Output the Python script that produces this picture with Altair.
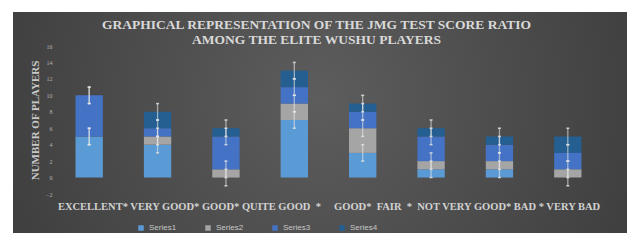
import altair as alt
import pandas as pd

# ---- data ----
categories = ["EXCELLENT", "VERY GOOD", "GOOD", "QUITE GOOD", "GOOD*",
              "FAIR", "NOT VERY GOOD", "BAD / VERY BAD"]
series_names = ["Series1", "Series2", "Series3", "Series4"]
series1 = [5, 4, 0, 7, 3, 1, 1, 0]
series2 = [0, 1, 1, 2, 3, 1, 1, 1]
series3 = [5, 1, 4, 2, 2, 3, 2, 2]
series4 = [0, 2, 1, 2, 1, 1, 1, 2]
error_amount = 1
NB = "\u00a0"
axis_label_parts = ["EXCELLENT*", "VERY GOOD*", "GOOD*", "QUITE GOOD" + NB * 2 + "*" + NB * 4,
                    "GOOD*" + NB, "FAIR" + NB + NB + "*" + NB, "NOT VERY GOOD*", "BAD *", "VERY BAD"]
y_ticks = [-2, 0, 2, 4, 6, 8, 10, 12, 14, 16]
title_lines = ["GRAPHICAL REPRESENTATION OF THE JMG TEST SCORE RATIO",
               "AMONG THE ELITE WUSHU PLAYERS"]
colors = ["#5B9BD5", "#A5A5A5", "#4472C4", "#255E91"]

rows = []
for si, (name, vals) in enumerate(zip(series_names, [series1, series2, series3, series4])):
    for cat, v in zip(categories, vals):
        rows.append({"cat": cat, "series": name, "order": si, "value": v})
df = pd.DataFrame(rows)

x_axis = alt.Axis(labels=False, ticks=False, domain=False, grid=False, zindex=1,
                  title=" ".join(axis_label_parts),
                  titleFont="Liberation Serif", titleFontWeight="bold",
                  titleFontSize=10.5, titleColor="#d2d2d2",
                  titleY=12, titleBaseline="middle")
y_axis = alt.Axis(values=y_ticks, ticks=False, domain=False, grid=False,
                  zindex=1, labelOverlap=False, labelFlush=False,
                  labelFont="Liberation Serif", labelFontSize=6,
                  labelColor="#b4b4b4", labelPadding=3,
                  title="NUMBER OF PLAYERS", titleFont="Liberation Serif",
                  titleFontWeight="bold", titleFontSize=11,
                  titleColor="#c8c8c8", titleX=-20, titleY=74,
                  titleBaseline="middle")
x_scale = alt.Scale(paddingInner=0.6, paddingOuter=0.3)
y_scale = alt.Scale(domain=[-2, 16], nice=False, zero=False)
x_enc = alt.X("cat:N", sort=categories, scale=x_scale, axis=x_axis)

bg = alt.Chart(pd.DataFrame({"a": [0]})).mark_rect(
    fill={"gradient": "radial",
          "stops": [{"offset": 0, "color": "#5d5d5d"},
                    {"offset": 1, "color": "#2e2e2e"}],
          "x1": 0.5, "y1": 0.45, "x2": 0.5, "y2": 0.45, "r1": 0, "r2": 0.85}
).encode(x=alt.value(-42), x2=alt.value(573), y=alt.value(-34), y2=alt.value(200))

bars = alt.Chart(df).mark_bar().encode(
    x=x_enc,
    y=alt.Y("value:Q", stack="zero", scale=y_scale, axis=y_axis),
    color=alt.Color("series:N", scale=alt.Scale(domain=series_names, range=colors),
                    title=None,
                    legend=alt.Legend(orient="none", legendX=82, legendY=178,
                                      direction="horizontal", symbolType="square",
                                      symbolSize=30, symbolStrokeWidth=0,
                                      labelFont="Liberation Sans", labelFontSize=8,
                                      labelColor="#c8c8c8", columnPadding=27,
                                      labelOffset=4, zindex=1)),
    order=alt.Order("order:Q"),
)

err_base = alt.Chart(df).transform_stack(
    stack="value", groupby=["cat"], as_=["s0", "s1"],
    sort=[alt.SortField("order", order="ascending")]
).transform_calculate(
    lo=f"datum.s1 - {error_amount}", hi=f"datum.s1 + {error_amount}"
)

rules = err_base.mark_rule(color="#e6e6e6", opacity=0.6, strokeWidth=1.3).encode(
    x=x_enc,
    y=alt.Y("lo:Q", scale=y_scale, axis=y_axis),
    y2="hi:Q",
)
caps_lo = err_base.mark_tick(color="#e6e6e6", opacity=0.8, size=3, thickness=1.5,
                             orient="horizontal").encode(
    x=x_enc, y=alt.Y("lo:Q", scale=y_scale, axis=y_axis))
caps_hi = err_base.mark_tick(color="#e6e6e6", opacity=0.8, size=3, thickness=1.5,
                             orient="horizontal").encode(
    x=x_enc, y=alt.Y("hi:Q", scale=y_scale, axis=y_axis))

chart = alt.layer(bg, bars, rules, caps_lo, caps_hi).properties(
    width=547, height=148,
    autosize=alt.AutoSizeParams(type="none"),
    padding={"left": 47, "top": 38, "right": 25, "bottom": 39},
    background="white",
    title=alt.TitleParams(text=title_lines, font="Liberation Serif", fontSize=13.5,
                          fontWeight="bold", color="#d9d9d9", anchor="middle",
                          frame="group", dx=-12, dy=36, offset=2, lineHeight=15,
                          zindex=1),
).configure_view(strokeWidth=0)

chart.save("out.html", embed_options={"renderer": "svg", "actions": False})
